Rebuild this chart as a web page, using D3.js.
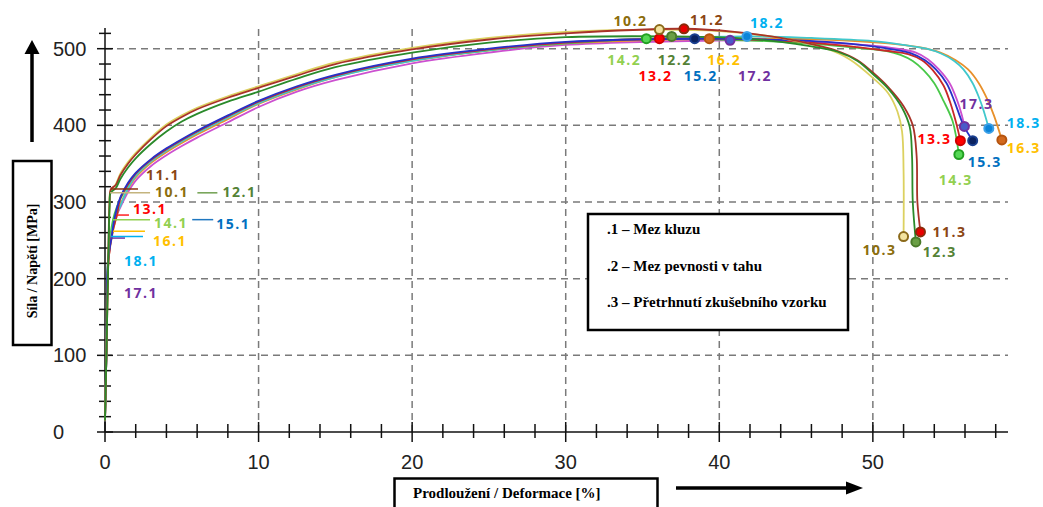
<!DOCTYPE html>
<html>
<head>
<meta charset="utf-8">
<script src="https://cdn.jsdelivr.net/npm/d3@7/dist/d3.min.js"></script>
<style>
  html, body { margin: 0; padding: 0; background: #fff; }
  svg { display: block; }
</style>
</head>
<body>
<svg id="chart" width="1043" height="507"></svg>
<script>
// ---------------- DATA ----------------
const specimens = ["10", "11", "12", "13", "14", "15", "16", "17", "18"];
const xTickValues = [0, 10, 20, 30, 40, 50];
const yTickValues = [0, 100, 200, 300, 400, 500];

// stress-strain curves [strain %, stress MPa]
const curve10 = [[0,15],[0.1,110],[0.2,210],[0.3,296],[0.34,313],[0.7,323],[1,337],[1.5,352],[2,364],[3,384],[4,401],[5,413],[6,423],[8,438],[10,451],[12.5,467],[15,482],[20,501],[25,514],[30,522],[36.1,525],[40,523],[43,517],[45,510],[47,500],[48.5,486],[50,462],[51,442],[51.6,418],[51.9,392],[52.0,340],[52.0,255]];
const curve11 = [[0,15],[0.1,110],[0.2,210],[0.3,300],[0.39,317],[0.7,322],[1,335],[1.5,350],[2,362],[3,382],[4,399],[5,411],[6,421],[8,436],[10,449],[12.5,465],[15,480],[20,499],[25,512],[30,520],[37.7,526],[41,522],[44,514],[46,506],[47.7,497],[49,485],[50,469],[51,450],[52,425],[52.6,400],[52.85,360],[52.9,300],[53.1,261]];
const curve12 = [[0,15],[0.1,110],[0.2,210],[0.3,295],[0.36,312],[0.7,318],[1,330],[1.5,345],[2,357],[3,376],[4,392],[5,405],[6,415],[8,431],[10,444],[12.5,461],[15,476],[20,495],[25,508],[30,515],[36.9,516],[41,514],[44,509],[46,503],[47.7,496],[49,484],[50,467],[51,448],[51.9,423],[52.4,398],[52.55,360],[52.6,300],[52.8,248]];
const curve13 = [[0,15],[0.1,110],[0.2,215],[0.45,258],[0.78,283],[1,305],[1.5,323],[2,337],[3,355],[4,369],[5,381],[6,392],[8,412],[10,431],[12.5,450],[15,465],[20,486],[25,499],[30,508],[36.1,513],[42,512],[46,508],[49,502],[51,497],[52.3,493],[53.2,485],[53.9,472],[54.6,452],[55.0,432],[55.4,405],[55.7,380]];
const curve14 = [[0,15],[0.1,110],[0.2,225],[0.52,277],[0.8,295],[1,304],[1.5,322],[2,336],[3,354],[4,368],[5,380],[6,391],[8,411],[10,430],[12.5,449],[15,464],[20,485],[25,498],[30,507],[35.25,513],[40,512],[44,509],[47,505],[49,501],[50.9,497],[51.8,492],[52.6,484],[53.3,472],[54.0,455],[54.6,432],[55.2,405],[55.6,362]];
const curve15 = [[0,15],[0.1,110],[0.2,224],[0.46,257],[0.6,277],[1,306],[1.5,325],[2,338],[3,356],[4,370],[5,382],[6,393],[8,413],[10,432],[12.5,451],[15,466],[20,487],[25,500],[30,509],[38.4,513],[43,512],[47,509],[50,503],[52.5,494],[53.4,485],[54.1,473],[54.8,455],[55.3,432],[55.7,410],[55.95,398],[56.5,380]];
const curve16 = [[0,15],[0.1,110],[0.2,220],[0.52,262],[0.8,285],[1,297],[1.5,317],[2,332],[3,351],[4,365],[5,377],[6,388],[8,408],[10,428],[12.5,447],[15,463],[20,484],[25,498],[30,507],[39.35,513],[44,513],[48,511],[51,507],[53,502],[54.4,495],[55.4,485],[56.2,473],[56.9,455],[57.5,432],[57.9,412],[58.4,381]];
const curve17 = [[0,15],[0.1,110],[0.2,215],[0.39,253],[0.7,280],[1,293],[1.5,313],[2,328],[3,347],[4,361],[5,373],[6,384],[8,404],[10,424],[12.5,444],[15,459],[20,481],[25,495],[30,505],[40.7,511],[44,511],[48,507],[50,504],[52.8,495],[53.6,486],[54.3,473],[55.0,455],[55.5,432],[55.8,413],[55.96,398.6]];
const curve18 = [[0,15],[0.1,110],[0.2,220],[0.39,255],[0.7,282],[1,295],[1.5,318],[2,334],[3,353],[4,367],[5,379],[6,390],[8,410],[10,429],[12.5,448],[15,463],[20,484],[25,498],[30,508],[41.8,516],[46,514],[50,510],[52,505],[53.5,500],[54.4,494],[55.3,484],[55.9,473],[56.5,455],[56.9,437],[57.2,420],[57.55,396]];
const curves = [curve10, curve11, curve12, curve13, curve14, curve15, curve16, curve17, curve18];

// .1 yield, .2 tensile strength, .3 fracture
const yieldStrain = [0.33, 0.39, 0.35, 0.78, 0.52, 0.6, 0.52, 0.39, 0.39];
const yieldStress = [312, 317, 312, 283, 277, 277, 262, 253, 255];
const utsStrain   = [36.1, 37.7, 36.9, 36.1, 35.25, 38.4, 39.35, 40.7, 41.8];
const utsStress   = [525, 526, 516, 513, 513, 513, 513, 511, 516];
const fracStrain  = [52.0, 53.1, 52.8, 55.7, 55.6, 56.5, 58.4, 55.96, 57.55];
const fracStress  = [255, 261, 248, 380, 362, 380, 381, 398.6, 396];

const legendLines = [".1 – Mez kluzu", ".2 – Mez pevnosti v tahu", ".3 – Přetrhnutí zkušebního vzorku"];
const yTitle = "Síla / Napětí [MPa]";
const xTitle = "Prodloužení / Deformace [%]";

// ---------------- STYLE / LAYOUT ----------------
const curveColors  = ["#dcd160", "#a83228", "#2a8a2a", "#c82828", "#48c848", "#2830c8", "#e8902a", "#cc50d0", "#40c8cc"];
const labelColors  = ["#8c6d0c", "#8b4513", "#548235", "#ff0000", "#92d050", "#0070c0", "#ffc000", "#7030a0", "#00b0f0"];
const leaderColors = ["#c4b47e", "#8b3010", "#70a050", "#ff2020", "#92d050", "#1f77c0", "#ffc000", "#7030a0", "#00b0f0"];
const markerFill   = ["#f3e3a0", "#e80000", "#6a9f45", "#ff0000", "#55d855", "#0a2260", "#d2691e", "#4a5ac8", "#0b84d8"];
const markerStroke = ["#8b6a1a", "#8b2a0a", "#4a7a2a", "#d00000", "#22a022", "#1a3f8f", "#b5540f", "#7030a0", "#3aa0e8"];
// layout offsets (px) for annotations
const yieldLeader = [[0,40],[0,27],[87,107],[0,12],[0,37],[78,99],[0,32],[0,14],[0,32]];
const yieldLabelOff = [[45,4],[35,-9],[112,4],[16,-1],[41,8],[102,9],[40,15],[13,60],[13,29]];
const utsLabelOff = [[-46,-4],[6,-4],[-14,29],[-21,42],[-39,26],[-11,42],[-2,26],[8,41],[3,-8]];
const fracLabelOff = [[-41,18],[12,5],[7,15],[-43,3],[-20,31],[-5,26],[5,13],[-5,-17],[18,0]];
const utsOrder = [4, 3, 2, 0, 1, 5, 6, 7, 8];

const svg = d3.select("#chart");
const x = d3.scaleLinear().domain([0, 58.8]).range([105, 1008]);
const y = d3.scaleLinear().domain([0, 527]).range([432, 28]);

// grid
const grid = svg.append("g").attr("stroke", "#7a7a7a").attr("stroke-width", 1.5).attr("stroke-dasharray", "7,5");
grid.selectAll("line.h").data(yTickValues.filter(d => d > 0)).join("line")
  .attr("x1", x(0)).attr("x2", x(58.8)).attr("y1", d => y(d)).attr("y2", d => y(d));
grid.selectAll("line.v").data(xTickValues.filter(d => d > 0)).join("line")
  .attr("y1", y(0)).attr("y2", y(527)).attr("x1", d => x(d)).attr("x2", d => x(d));

// axes
const ax = svg.append("g").attr("stroke", "#111").attr("stroke-width", 1.5);
ax.append("line").attr("x1", x(0)).attr("x2", x(58.8)).attr("y1", y(0)).attr("y2", y(0));
ax.append("line").attr("x1", x(0)).attr("x2", x(0)).attr("y1", y(0)).attr("y2", y(527));
ax.selectAll("line.yt").data(d3.range(0, 521, 20)).join("line")
  .attr("x1", d => x(0) - (d % 100 === 0 ? 8 : 6)).attr("x2", d => x(0) + (d % 100 === 0 ? 8 : 6))
  .attr("y1", d => y(d)).attr("y2", d => y(d));
ax.selectAll("line.xt").data(d3.range(0, 59, 2)).join("line")
  .attr("y1", d => y(0) - (d % 10 === 0 ? 10 : 8)).attr("y2", d => y(0) + (d % 10 === 0 ? 10 : 6))
  .attr("x1", d => x(d)).attr("x2", d => x(d));

const tickFont = "'Liberation Sans', Arial, sans-serif";
svg.append("g").selectAll("text").data(yTickValues).join("text")
  .attr("x", 53).attr("y", d => y(d) + 7).attr("font-family", tickFont).attr("font-size", 20)
  .attr("fill", "#222").text(d => d);
svg.append("g").selectAll("text").data(xTickValues).join("text")
  .attr("x", d => x(d)).attr("y", 469).attr("text-anchor", "middle").attr("font-family", tickFont)
  .attr("font-size", 20).attr("fill", "#222").text(d => d);

// curves
const line = d3.line().x(d => x(d[0])).y(d => y(d[1])).curve(d3.curveCatmullRom.alpha(0.5));
const drawOrder = [7, 6, 4, 8, 3, 5, 0, 1, 2];
svg.append("g").selectAll("path").data(drawOrder).join("path")
  .attr("d", i => line(curves[i])).attr("fill", "none")
  .attr("stroke", i => curveColors[i]).attr("stroke-width", 1.8);

const labFont = "'Open Sans', 'Noto Sans', sans-serif";
function label(g, xx, yy, txt, col) {
  g.append("text").attr("x", xx).attr("y", yy).attr("font-family", labFont).attr("font-weight", "bold")
    .attr("font-size", 14).attr("letter-spacing", "1.5px").attr("fill", col).text(txt);
}

// yield leaders and labels
const gy = svg.append("g");
specimens.forEach((s, i) => {
  const px = x(yieldStrain[i]), py = y(yieldStress[i]);
  gy.append("line").attr("x1", px + yieldLeader[i][0]).attr("x2", px + yieldLeader[i][1])
    .attr("y1", py).attr("y2", py).attr("stroke", leaderColors[i]).attr("stroke-width", 1.5);
  label(gy, px + yieldLabelOff[i][0], py + yieldLabelOff[i][1], s + ".1", labelColors[i]);
});

// uts markers + labels
const gu = svg.append("g");
utsOrder.forEach(i => {
  gu.append("circle").attr("cx", x(utsStrain[i])).attr("cy", y(utsStress[i])).attr("r", 4.5)
    .attr("fill", markerFill[i]).attr("stroke", markerStroke[i]).attr("stroke-width", 2);
});
specimens.forEach((s, i) => {
  label(gu, x(utsStrain[i]) + utsLabelOff[i][0], y(utsStress[i]) + utsLabelOff[i][1], s + ".2", labelColors[i]);
});

// fracture markers + labels
const gf = svg.append("g");
specimens.forEach((s, i) => {
  gf.append("circle").attr("cx", x(fracStrain[i])).attr("cy", y(fracStress[i])).attr("r", 4.5)
    .attr("fill", markerFill[i]).attr("stroke", markerStroke[i]).attr("stroke-width", 2);
});
specimens.forEach((s, i) => {
  label(gf, x(fracStrain[i]) + fracLabelOff[i][0], y(fracStress[i]) + fracLabelOff[i][1], s + ".3", labelColors[i]);
});

// legend box
const serif = "'Liberation Serif', 'Times New Roman', serif";
svg.append("rect").attr("x", 588).attr("y", 214).attr("width", 260).attr("height", 116)
  .attr("fill", "#fff").attr("stroke", "#000").attr("stroke-width", 2.5);
svg.append("g").selectAll("text").data(legendLines).join("text")
  .attr("x", 607).attr("y", (d, i) => 234 + i * 36.5).attr("font-family", serif).attr("font-weight", "bold")
  .attr("font-size", 15).attr("fill", "#000").text(d => d);

// y title box
svg.append("rect").attr("x", 13).attr("y", 161).attr("width", 38.5).attr("height", 184)
  .attr("fill", "#fff").attr("stroke", "#000").attr("stroke-width", 2.5);
svg.append("text").attr("transform", "translate(37,261) rotate(-90)").attr("text-anchor", "middle")
  .attr("font-family", serif).attr("font-weight", "bold").attr("font-size", 14).attr("fill", "#000").text(yTitle);

// x title box
svg.append("rect").attr("x", 394.5).attr("y", 478.5).attr("width", 263).attr("height", 40)
  .attr("fill", "#fff").attr("stroke", "#000").attr("stroke-width", 2.5);
svg.append("text").attr("x", 413).attr("y", 498).attr("font-family", serif).attr("font-weight", "bold")
  .attr("font-size", 15).attr("fill", "#000").text(xTitle);

// arrows
svg.append("line").attr("x1", 32).attr("x2", 32).attr("y1", 142).attr("y2", 52).attr("stroke", "#000").attr("stroke-width", 3.5);
svg.append("path").attr("d", "M24.5,54 L39.5,54 L32,40 Z").attr("fill", "#000");
svg.append("line").attr("x1", 676).attr("x2", 848).attr("y1", 488).attr("y2", 488).attr("stroke", "#000").attr("stroke-width", 3.3);
svg.append("path").attr("d", "M846,481.5 L846,494.5 L863,488 Z").attr("fill", "#000");
</script>
</body>
</html>
